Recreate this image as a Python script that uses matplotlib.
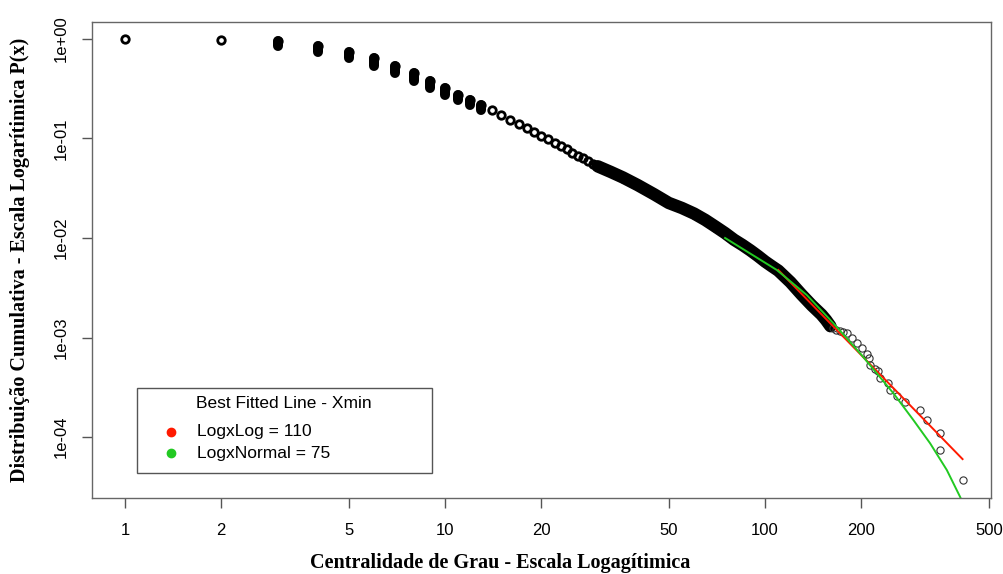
import numpy as np
import matplotlib
matplotlib.use("Agg")
import matplotlib.pyplot as plt
from matplotlib.patches import Rectangle
from matplotlib.ticker import NullLocator

# distribuicao cumulativa P(X >= x)
grau = np.array([1, 2, 3, 4, 5, 6, 7, 8, 9, 10,
                 11, 12, 13, 14, 15, 16, 17, 18, 19, 20,
                 21, 22, 23, 24, 25, 26, 27, 28, 29, 30,
                 33, 36, 40, 45, 50, 55, 60, 65, 70, 75,
                 80, 85, 90, 95, 100, 105, 110, 120, 130, 140,
                 150, 155, 160])
ccdf = np.array([1.0, 0.977, 0.955, 0.850, 0.740, 0.637, 0.535, 0.450, 0.378, 0.322,
                 0.274, 0.244, 0.217, 0.194, 0.172, 0.155, 0.139, 0.126, 0.116, 0.106,
                 0.098, 0.090, 0.084, 0.078, 0.072, 0.067, 0.063, 0.059, 0.0555, 0.0525,
                 0.046, 0.0405, 0.034, 0.0275, 0.0225, 0.0200, 0.0176, 0.0152, 0.0130, 0.0112,
                 0.0096, 0.0085, 0.0075, 0.0066, 0.0058, 0.0052, 0.0047, 0.0036, 0.0027, 0.0021,
                 0.0017, 0.0015, 0.0013])

# cauda (pontos isolados)
grau_cauda = np.array([163, 167, 171, 175, 180, 186.6, 193.5, 200.6, 207.5, 210.9,
                       213, 220, 225, 229, 243, 246, 258, 274, 305, 320,
                       351, 352, 414])
ccdf_cauda = np.array([1.25e-3, 1.2e-3, 1.16e-3, 1.13e-3, 1.10e-3, 9.8e-4, 8.8e-4, 7.8e-4, 6.9e-4, 6.2e-4,
                       5.3e-4, 4.8e-4, 4.6e-4, 3.9e-4, 3.5e-4, 3.0e-4, 2.6e-4, 2.26e-4, 1.87e-4, 1.48e-4,
                       1.10e-4, 7.4e-5, 3.7e-5])

# linhas ajustadas
grau_loglog = np.array([110, 414])
p_loglog = np.array([4.77e-3, 6.0e-5])
grau_lognormal = np.array([75, 108.8, 135, 163.5, 200, 251.8, 290.7, 327.8, 369.7, 406.6, 414])
p_lognormal = np.array([1.0e-2, 4.77e-3, 2.67e-3, 1.39e-3, 6.7e-4, 2.75e-4, 1.48e-4,
                        8.65e-5, 4.66e-5, 2.51e-5, 2.2e-5])

xticks = [1, 2, 5, 10, 20, 50, 100, 200, 500]
yticks = [1, 1e-1, 1e-2, 1e-3, 1e-4]
ylabels = ["1e+00", "1e-01", "1e-02", "1e-03", "1e-04"]

fig = plt.figure(figsize=(10.04, 5.74), dpi=100)
ax = fig.add_axes([92 / 1004, 1 - 498 / 574, 899 / 1004, 476 / 574])
ax.set_xscale("log")
ax.set_yscale("log")

# empates (varios nos com o mesmo grau) formam pilhas verticais
pilha = (grau[:-1] >= 3) & (grau[:-1] <= 13)
ax.vlines(grau[:-1][pilha], ccdf[1:][pilha], ccdf[:-1][pilha],
          colors="black", lw=7.2, capstyle="round")
denso = grau >= 30
ax.plot(grau[denso], ccdf[denso], color="black", lw=9,
        solid_capstyle="round", solid_joinstyle="round")
ax.plot(grau, ccdf, "o", mfc="none", mec="black", ms=5.4, mew=2.0)
ax.plot(grau_cauda, ccdf_cauda, "o", mfc="none", mec="#333333", ms=5.2, mew=0.8)

ax.plot(grau_loglog, p_loglog, color="#ff1a00", lw=1.4)
ax.plot(grau_lognormal, p_lognormal, color="#22c922", lw=1.4)

ax.set_xlim(0.789, 508)
ax.set_ylim(2.44e-5, 1.48)

ax.set_xticks(xticks)
ax.set_xticklabels([str(t) for t in xticks], family="Liberation Sans", fontsize=12)
ax.set_yticks(yticks)
ax.set_yticklabels(ylabels, family="Liberation Sans", fontsize=12, rotation=90, va="center")
ax.xaxis.set_minor_locator(NullLocator())
ax.yaxis.set_minor_locator(NullLocator())
ax.tick_params(axis="x", length=7.2, width=1, color="#555555", pad=10.5)
ax.tick_params(axis="y", length=7.2, width=1, color="#555555", pad=9.5)
for s in ax.spines.values():
    s.set_color("#666666")
    s.set_linewidth(1.0)

fig.text(500.5 / 1004, 1 - 563 / 574, "Centralidade de Grau - Escala Logagítimica",
         family="Liberation Serif", weight="bold", fontsize=14.5, ha="center", va="center")
fig.text(20 / 1004, 1 - 260 / 574, "Distribuição Cumulativa - Escala Logarítimica P(x)",
         family="Liberation Serif", weight="bold", fontsize=14.5, ha="center", va="center",
         rotation=90)

# legenda no estilo do R
ax.add_patch(Rectangle((0.05, 0.0525), 0.328, 0.1785, transform=ax.transAxes,
                       facecolor="white", edgecolor="#555555", lw=1.0, zorder=5))
ax.text(0.2136, 0.1975, "Best Fitted Line - Xmin", transform=ax.transAxes,
        ha="center", va="center", fontsize=12.5, family="Liberation Sans", zorder=6)
legenda = [("LogxLog = 110", "#ff1a00", 0.1387), ("LogxNormal = 75", "#22c922", 0.0945)]
for rotulo, cor, yl in legenda:
    ax.plot([0.0879], [yl], "o", color=cor, ms=6, transform=ax.transAxes, zorder=6)
    ax.text(0.1168, yl, rotulo, transform=ax.transAxes, ha="left", va="center",
            fontsize=12.5, family="Liberation Sans", zorder=6)

fig.savefig("out.png", dpi=100)
